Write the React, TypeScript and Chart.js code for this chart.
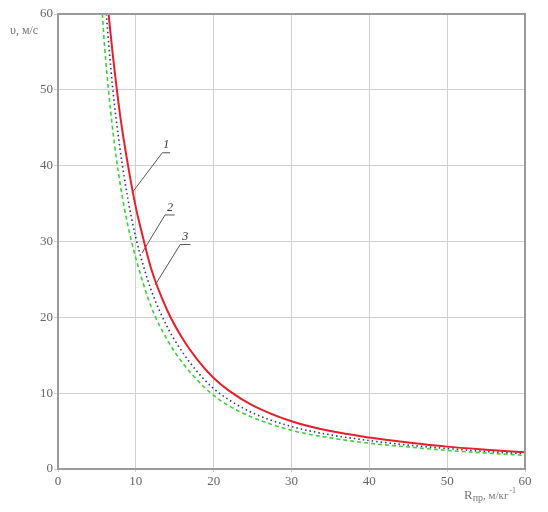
import React, { useEffect, useRef } from "react";
import { Chart, registerables } from "chart.js";

Chart.register(...registerables);

// Curve 1 (red, solid)
const x1 = [6.5, 7, 8, 9, 10, 11, 12, 14, 16, 18, 20, 22, 25, 30, 35, 40, 45, 50, 55, 60];
const y1 = [60, 55, 46.5, 40, 34.5, 30.2, 26.3, 21.0, 17.2, 14.3, 12.0, 10.3, 8.4, 6.3, 5.0, 4.15, 3.5, 2.95, 2.55, 2.2];
// Curve 2 (blue, dotted)
const x2 = [6.2, 7, 8, 9, 10, 11, 12, 14, 16, 18, 20, 22, 25, 30, 35, 40, 45, 50, 55, 60];
const y2 = [60, 50.5, 42, 35.5, 30.5, 26.7, 23.5, 18.8, 15.4, 12.7, 10.6, 9.1, 7.4, 5.6, 4.5, 3.75, 3.15, 2.7, 2.3, 2.0];
// Curve 3 (green, dashed)
const x3 = [5.7, 6, 7, 8, 9, 10, 11, 12, 14, 16, 18, 20, 22, 25, 30, 35, 40, 45, 50, 55, 60];
const y3 = [60, 55.5, 45, 37.5, 32, 27.8, 24.3, 21.3, 17.1, 14.0, 11.6, 9.7, 8.3, 6.8, 5.1, 4.1, 3.4, 2.9, 2.45, 2.1, 1.8];

// Callout labels and leader lines (data coordinates)
const labelTexts = ["1", "2", "3"];
const labelX = [13.9, 14.4, 16.35];
const labelY = [41.9, 33.7, 29.8];
const leaderX = [
  [14.4, 13.4, 9.5],
  [15.0, 13.75, 10.8],
  [17.0, 15.7, 12.5],
];
const leaderY = [
  [41.7, 41.7, 36.4],
  [33.5, 33.5, 28.5],
  [29.6, 29.6, 24.3],
];

const xTicks = [0, 10, 20, 30, 40, 50, 60];
const yTicks = [0, 10, 20, 30, 40, 50, 60];
const yTitle = "υ, м/с";
const xTitleMain = "R";
const xTitleSub = "пр";
const xTitleRest = ", м/кг";
const xTitleSup = "-1";

const pts = (xs: number[], ys: number[]) => xs.map((x, i) => ({ x, y: ys[i] }));

export default function App() {
  const ref = useRef<HTMLCanvasElement | null>(null);
  useEffect(() => {
    const prevMargin = document.body.style.margin;
    document.body.style.margin = "0";
    const canvas = ref.current!;
    const serif = "'Liberation Serif', 'Times New Roman', serif";

    const overlay = {
      id: "overlay",
      afterDraw(chart: any) {
        const ctx = chart.ctx;
        const a = chart.chartArea;
        const xs = chart.scales.x;
        const ys = chart.scales.y;
        ctx.save();
        // frame
        ctx.strokeStyle = "#9a9a9a";
        ctx.lineWidth = 2;
        ctx.strokeRect(a.left, a.top, a.right - a.left, a.bottom - a.top);
        // callout labels
        ctx.fillStyle = "#333";
        ctx.font = "italic 12px " + serif;
        ctx.textAlign = "center";
        ctx.textBaseline = "bottom";
        labelTexts.forEach((t, i) => {
          ctx.fillText(t, xs.getPixelForValue(labelX[i]), ys.getPixelForValue(labelY[i]));
        });
        // y title
        ctx.fillStyle = "#777";
        ctx.font = "12px " + serif;
        ctx.textAlign = "left";
        ctx.textBaseline = "middle";
        ctx.fillText(yTitle, 10, 31);
        // x title
        ctx.font = "13px " + serif;
        ctx.textBaseline = "alphabetic";
        let px = 464;
        const base = 499;
        ctx.fillText(xTitleMain, px, base);
        px += ctx.measureText(xTitleMain).width;
        ctx.font = "10px " + serif;
        ctx.fillText(xTitleSub, px, base + 2);
        px += ctx.measureText(xTitleSub).width;
        ctx.font = "11px " + serif;
        ctx.fillText(xTitleRest, px, base);
        px += ctx.measureText(xTitleRest).width;
        ctx.font = "8px " + serif;
        ctx.fillText(xTitleSup, px + 1, base - 6);
        ctx.restore();
      },
    };

    const leaderSets = leaderX.map((xs, i) => ({
      data: pts(xs, leaderY[i]),
      borderColor: "#555",
      borderWidth: 1,
      pointRadius: 0,
      tension: 0,
      fill: false,
    }));

    const chart = new Chart(canvas, {
      type: "line",
      data: {
        datasets: [
          {
            data: pts(x3, y3),
            borderColor: "#3fcf3f",
            borderWidth: 1.6,
            borderDash: [4, 3],
            pointRadius: 0,
            cubicInterpolationMode: "monotone",
            fill: false,
          },
          {
            data: pts(x2, y2),
            borderColor: "#33338f",
            borderWidth: 1.6,
            borderDash: [1.5, 3],
            pointRadius: 0,
            cubicInterpolationMode: "monotone",
            fill: false,
          },
          {
            data: pts(x1, y1),
            borderColor: "#e3202c",
            borderWidth: 2,
            pointRadius: 0,
            cubicInterpolationMode: "monotone",
            fill: false,
          },
          ...leaderSets,
        ] as any,
      },
      options: {
        animation: false,
        responsive: false,
        maintainAspectRatio: false,
        layout: { padding: { left: 0, top: 14, right: 23, bottom: 0 } },
        plugins: { legend: { display: false }, tooltip: { enabled: false } },
        scales: {
          x: {
            type: "linear",
            min: 0,
            max: 60,
            afterBuildTicks: (s: any) => {
              s.ticks = xTicks.map((v) => ({ value: v }));
            },
            afterFit: (s: any) => {
              s.height = 43;
            },
            ticks: {
              color: "#666",
              font: { family: serif, size: 13 },
              padding: 2,
              maxRotation: 0,
            },
            grid: { color: "#d0d0d0", lineWidth: 1, tickLength: 3, drawTicks: true },
            border: { display: false },
          },
          y: {
            type: "linear",
            min: 0,
            max: 60,
            afterBuildTicks: (s: any) => {
              s.ticks = yTicks.map((v) => ({ value: v }));
            },
            afterFit: (s: any) => {
              s.width = 58;
            },
            ticks: {
              color: "#666",
              font: { family: serif, size: 13 },
              padding: 1,
            },
            grid: { color: "#d0d0d0", lineWidth: 1, tickLength: 4, drawTicks: true },
            border: { display: false },
          },
        },
      },
      plugins: [overlay],
    });
    return () => {
      chart.destroy();
      document.body.style.margin = prevMargin;
    };
  }, []);
  return (
    <div style={{ width: 548, height: 512, background: "#fff" }}>
      <canvas ref={ref} width={548} height={512} style={{ display: "block" }} />
    </div>
  );
}
